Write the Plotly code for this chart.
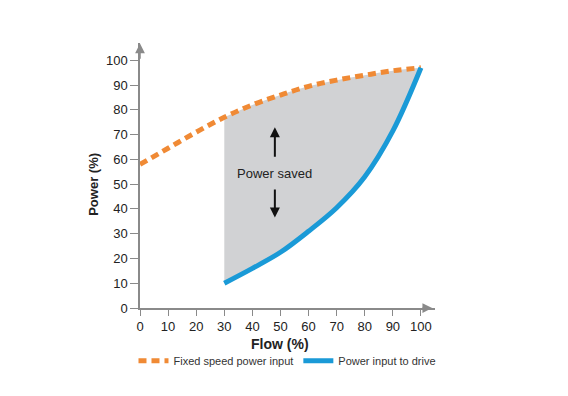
import plotly.graph_objects as go

flow = [0, 10, 20, 30, 40, 50, 60, 70, 80, 90, 100]
fixed_speed = [58, 64.5, 71, 77, 82, 86, 89.5, 92, 94, 95.8, 97]
drive_flow = [30, 40, 50, 60, 70, 80, 90, 100]
drive_power = [10, 16, 22.5, 31, 40.5, 53, 71.5, 97]
tick_vals = [0, 10, 20, 30, 40, 50, 60, 70, 80, 90, 100]

ORANGE = "#f08a35"
BLUE = "#1a9ad7"
AXIS = "#8a8a8a"
FONT = "Liberation Sans, Arial, sans-serif"
XMAX = 105
YMAX = 107

fig = go.Figure()

# upper boundary of shaded region (fixed speed curve for flow >= 30)
sub_x = [f for f in flow if f >= 30]
sub_y = [p for f, p in zip(flow, fixed_speed) if f >= 30]
fig.add_trace(go.Scatter(x=sub_x, y=sub_y, mode="lines", line=dict(width=0, color="rgba(0,0,0,0)"),
                         line_shape="spline", showlegend=False, hoverinfo="skip"))
fig.add_trace(go.Scatter(x=drive_flow, y=drive_power, mode="lines", line=dict(width=0, color="rgba(0,0,0,0)"),
                         line_shape="spline", fill="tonexty", fillcolor="#d1d2d4", showlegend=False, hoverinfo="skip"))

fig.add_trace(go.Scatter(x=flow, y=fixed_speed, mode="lines", name="Fixed speed power input",
                         line=dict(color=ORANGE, width=5, dash="8px,5px"), line_shape="spline", cliponaxis=False))
fig.add_trace(go.Scatter(x=drive_flow, y=drive_power, mode="lines", name="Power input to drive",
                         line=dict(color=BLUE, width=5), line_shape="spline", cliponaxis=False))

# arrows in shaded region
fig.add_annotation(x=48, y=73, ax=48, ay=60.5, xref="x", yref="y", axref="x", ayref="y",
                   showarrow=True, arrowhead=2, arrowsize=1, arrowwidth=2, arrowcolor="#111", text="")
fig.add_annotation(x=48, y=36.5, ax=48, ay=48.5, xref="x", yref="y", axref="x", ayref="y",
                   showarrow=True, arrowhead=2, arrowsize=1, arrowwidth=2, arrowcolor="#111", text="")
fig.add_annotation(x=48, y=54.5, xref="x", yref="y", text="Power saved", showarrow=False,
                   font=dict(family=FONT, size=13, color="#222"))

# axis end arrows
fig.add_annotation(x=104, y=0, ax=100, ay=0, xref="x", yref="y", axref="x", ayref="y",
                   showarrow=True, arrowhead=2, arrowsize=1.3, arrowwidth=1.5, arrowcolor=AXIS, text="")
fig.add_annotation(x=0, y=106.8, ax=0, ay=100, xref="x", yref="y", axref="x", ayref="y",
                   showarrow=True, arrowhead=2, arrowsize=1.3, arrowwidth=1.5, arrowcolor=AXIS, text="")

# axis titles (paper coords)
fig.add_annotation(x=50 / XMAX, y=-14.4 / YMAX, xref="paper", yref="paper", text="<b>Flow (%)</b>",
                   xanchor="center", yanchor="middle",
                   showarrow=False, font=dict(family=FONT, size=14, color="#222"))
fig.add_annotation(x=-16.5 / XMAX, y=50 / YMAX, xref="paper", yref="paper", text="<b>Power (%)</b>",
                   xanchor="center", yanchor="middle",
                   showarrow=False, textangle=-90, font=dict(family=FONT, size=13, color="#222"))

fig.update_xaxes(range=[0, XMAX], tickvals=tick_vals, showgrid=False, zeroline=False, showline=True,
                 linecolor=AXIS, linewidth=1.5, ticks="outside", ticklen=6, tickcolor=AXIS, tickwidth=1.2,
                 tickfont=dict(family=FONT, size=13, color="#222"))
fig.update_yaxes(range=[0, YMAX], tickvals=tick_vals, showgrid=False, zeroline=False, showline=True,
                 linecolor=AXIS, linewidth=1.5, ticks="outside", ticklen=8, tickcolor=AXIS, tickwidth=1.2,
                 tickfont=dict(family=FONT, size=13, color="#222"))

fig.update_layout(
    width=568, height=396,
    margin=dict(l=131.5, r=140.5, t=35, b=95.7),
    plot_bgcolor="white", paper_bgcolor="white",
    showlegend=True,
    legend=dict(orientation="h", x=1.022, xanchor="right", y=-0.1445, yanchor="top",
                font=dict(family=FONT, size=11, color="#333"), itemwidth=30, traceorder="normal",
                bgcolor="rgba(0,0,0,0)"),
)

fig.write_html("out.html")
